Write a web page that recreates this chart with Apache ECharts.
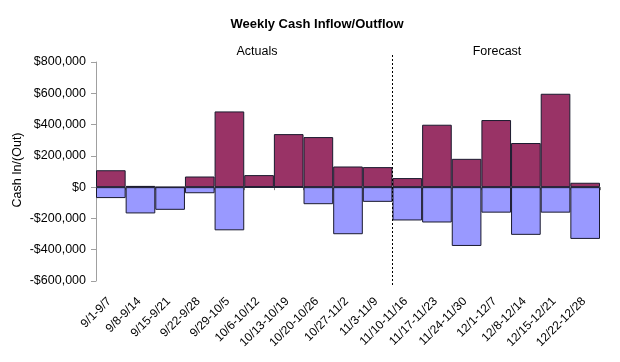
<!DOCTYPE html>
<html><head><meta charset="utf-8">
<script src="https://cdn.jsdelivr.net/npm/echarts@6/dist/echarts.min.js"></script>
<style>html,body{margin:0;padding:0;background:#fff}#c{width:620px;height:362px}</style>
</head><body><div id="c"></div>
<script>
const categories = ["9/1-9/7","9/8-9/14","9/15-9/21","9/22-9/28","9/29-10/5","10/6-10/12","10/13-10/19","10/20-10/26","10/27-11/2","11/3-11/9","11/10-11/16","11/17-11/23","11/24-11/30","12/1-12/7","12/8-12/14","12/15-12/21","12/22-12/28"];
const inflow = [108000, 8000, 0, 68000, 484000, 77000, 339000, 320000, 132000, 128000, 58000, 399000, 181000, 429000, 282000, 597000, 28000];
const outflow = [-70000, -168000, -145000, -39000, -276000, 0, 0, -109000, -301000, -94000, -213000, -226000, -376000, -163000, -305000, -163000, -331000];
const yTicks = [-600000, 800000, 200000]; // min, max, step
const forecastStart = 10;

const FONT = '"Liberation Sans", Arial, sans-serif';
const chart = echarts.init(document.getElementById('c'), null, {renderer: 'canvas'});
function money(v){ const s = '$' + Math.abs(v).toLocaleString('en-US'); return v < 0 ? '-' + s : s; }
const option = {
  animation: false,
  backgroundColor: '#fff',
  title: { text: 'Weekly Cash Inflow/Outflow', left: 312, textAlign: 'center', top: 13,
    textStyle: { fontFamily: FONT, fontSize: 13, fontWeight: 'bold', color: '#000' } },
  grid: { left: 96, right: 20, top: 62, bottom: 81, containLabel: false },
  xAxis: [
    { type: 'category', data: categories, position: 'bottom',
      axisLine: { show: false, onZero: false }, axisTick: { show: false },
      axisLabel: { rotate: 45, interval: 0, margin: 17, padding: [0, 2, 0, 0], fontFamily: FONT, fontSize: 12, color: '#000' } },
    { type: 'category', data: categories, position: 'bottom',
      axisLine: { show: true, onZero: true, lineStyle: { color: '#808080', width: 1 } },
      axisTick: { show: true, length: 3, interval: 0, lineStyle: { color: '#808080' } },
      axisLabel: { show: false } }
  ],
  yAxis: { type: 'value', min: yTicks[0], max: yTicks[1], interval: yTicks[2],
    splitLine: { show: false },
    axisLine: { show: true, lineStyle: { color: '#a0a0a0' } },
    axisTick: { show: true, length: 5, lineStyle: { color: '#a0a0a0' } },
    axisLabel: { margin: 10, formatter: money, fontFamily: FONT, fontSize: 12.5, color: '#000' } },
  series: [
    { name: 'In', type: 'bar', xAxisIndex: 0, data: inflow, barWidth: '100%', barCategoryGap: '0%', barGap: '-100%',
      itemStyle: { color: '#993366', borderColor: '#1a1a2e', borderWidth: 1 } },
    { name: 'Out', type: 'bar', xAxisIndex: 0, data: outflow, barWidth: '100%', barCategoryGap: '0%', barGap: '-100%',
      itemStyle: { color: '#9999FF', borderColor: '#1a1a2e', borderWidth: 1 } }
  ]
};
chart.setOption(option);
const xa = chart.convertToPixel({xAxisIndex: 0}, forecastStart - 1);
const xb = chart.convertToPixel({xAxisIndex: 0}, forecastStart);
const xLine = Math.round((xa + xb) / 2) + 0.5;
chart.setOption({
  graphic: [
    { type: 'line', shape: { x1: xLine, y1: 55, x2: xLine, y2: 285 },
      style: { stroke: '#000', lineWidth: 1, lineDash: [2, 2] }, z: 10 },
    { type: 'text', x: 257, y: 52, style: { text: 'Actuals', font: '12.5px ' + FONT, fill: '#000', textAlign: 'center', textVerticalAlign: 'middle' } },
    { type: 'text', x: 497, y: 52, style: { text: 'Forecast', font: '12.5px ' + FONT, fill: '#000', textAlign: 'center', textVerticalAlign: 'middle' } },
    { type: 'text', x: 18, y: 170, rotation: Math.PI / 2, style: { text: 'Cash In/(Out)', font: '12.5px ' + FONT, fill: '#000', textAlign: 'center', textVerticalAlign: 'middle' } }
  ]
});
</script></body></html>
